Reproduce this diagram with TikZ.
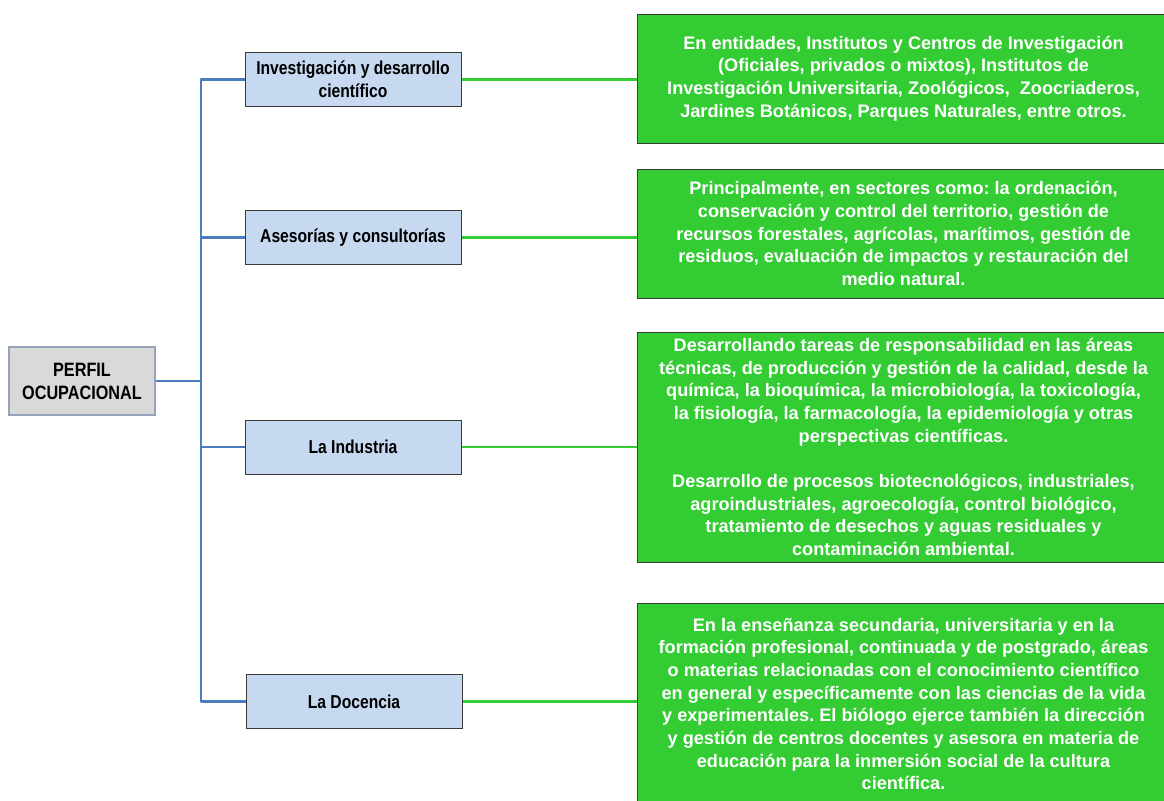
\documentclass[tikz,border=0pt]{standalone}
\usepackage{fontspec}
\setmainfont{Liberation Sans}
\newfontfamily\narrowsans[FakeStretch=0.84]{Liberation Sans}
\frenchspacing
\definecolor{greenfill}{HTML}{33CC33}
\definecolor{bluefill}{HTML}{C6D9F1}
\definecolor{rootfill}{HTML}{D9D9D9}
\definecolor{rootedge}{HTML}{95A3B8}
\definecolor{trunkblue}{HTML}{4A7EBB}
\definecolor{darkedge}{HTML}{3A3A3A}
\begin{document}
\begin{tikzpicture}[x=0.75pt,y=-0.75pt,
  rootbox/.style={draw=rootedge,line width=0.9pt,fill=rootfill,minimum width=109.5pt,minimum height=51pt,inner sep=0pt,align=center,font=\narrowsans\fontsize{14.5}{17.3}\selectfont\bfseries},
  areabox/.style={draw=darkedge,line width=0.75pt,fill=bluefill,minimum width=162pt,minimum height=40.5pt,inner sep=0pt,align=center,font=\narrowsans\fontsize{14}{17}\selectfont\bfseries},
  descbox/.style={draw=darkedge,line width=0.75pt,fill=greenfill,minimum width=399.75pt,inner sep=0pt,align=center,text=white,font=\fontsize{13.6}{17}\selectfont\bfseries},
  trunkline/.style={draw=trunkblue,line width=2pt},
  greenline/.style={draw=greenfill,line width=2pt}]
\useasboundingbox (0,0) rectangle (1164,800);
\clip (0,0) rectangle (1164,800);
\fill[white] (0,0) rectangle (1164,800);

\node[rootbox] (root) at (82,381) {PERFIL\\OCUPACIONAL};

\node[areabox] (b1) at (353,79.5) {Investigación y desarrollo\\científico};
\node[areabox] (b2) at (353,237.5) {Asesorías y consultorías};
\node[areabox] (b3) at (353,447) {La Industria};
\node[areabox] (b4) at (354,701.5) {La Docencia};

\node[descbox,minimum height=96.75pt] (g1) at (903.5,78.5) {En entidades, Institutos y Centros de Investigación\\(Oficiales, privados o mixtos), Institutos de\\Investigación Universitaria, Zoológicos,~ Zoocriaderos,\\Jardines Botánicos, Parques Naturales, entre otros.};
\node[descbox,minimum height=96.75pt] (g2) at (903.5,233.5) {Principalmente, en sectores como: la ordenación,\\conservación y control del territorio, gestión de\\recursos forestales, agrícolas, marítimos, gestión de\\residuos, evaluación de impactos y restauración del\\medio natural.};
\node[descbox,minimum height=172.5pt] (g3) at (903.5,447) {Desarrollando tareas de responsabilidad en las áreas\\técnicas, de producción y gestión de la calidad, desde la\\química, la bioquímica, la microbiología, la toxicología,\\la fisiología, la farmacología, la epidemiología y otras\\perspectivas científicas.\\[17pt]Desarrollo de procesos biotecnológicos, industriales,\\agroindustriales, agroecología, control biológico,\\tratamiento de desechos y aguas residuales y\\contaminación ambiental.};
\node[descbox,minimum height=151.5pt] (g4) at (903.5,704) {En la enseñanza secundaria, universitaria y en la\\formación profesional, continuada y de postgrado, áreas\\o materias relacionadas con el conocimiento científico\\en general y específicamente con las ciencias de la vida\\y experimentales. El biólogo ejerce también la dirección\\y gestión de centros docentes y asesora en materia de\\educación para la inmersión social de la cultura\\científica.};

\coordinate (ttop) at (201,79.5);
\coordinate (tbot) at (201,701.5);
\draw[trunkline,line join=round] (b1.west) -- (ttop) -- (tbot) -- (b4.west);
\draw[trunkline] (root.east) -- (root.east -| ttop);
\draw[trunkline] (b2.west) -- (b2.west -| ttop);
\draw[trunkline] (b3.west) -- (b3.west -| ttop);

\draw[greenline] (b1.east) -- (b1.east -| g1.west);
\draw[greenline] (b2.east) -- (b2.east -| g2.west);
\draw[greenline] (b3.east) -- (b3.east -| g3.west);
\draw[greenline] (b4.east) -- (b4.east -| g4.west);
\end{tikzpicture}
\end{document}
